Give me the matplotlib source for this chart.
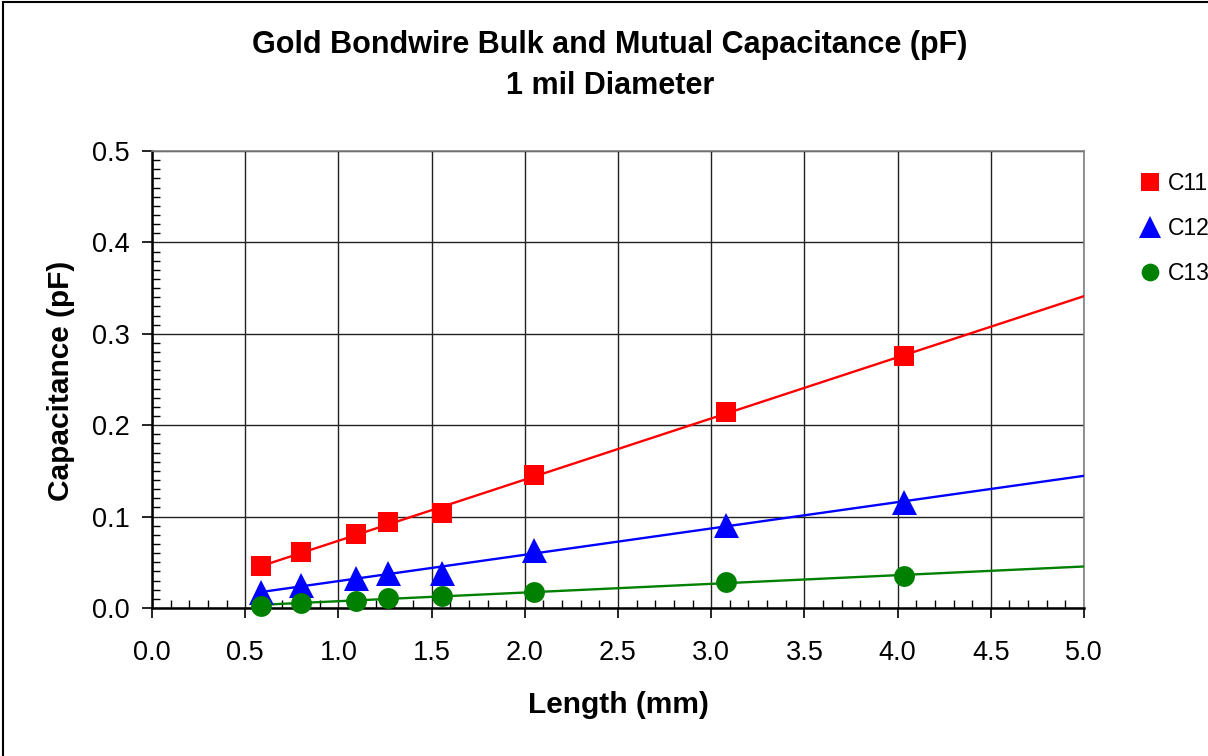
import numpy as np
import matplotlib
matplotlib.use("Agg")
import matplotlib.pyplot as plt
from matplotlib.patches import Rectangle
from matplotlib.ticker import MultipleLocator

plt.rcParams['font.family'] = ['Liberation Sans', 'DejaVu Sans']

# Data
length_mm = [0.587, 0.799, 1.094, 1.267, 1.554, 2.048, 3.079, 4.033]
c11 = [0.0455, 0.0608, 0.0813, 0.0937, 0.1035, 0.1460, 0.2148, 0.2753]
c12 = [0.0176, 0.0252, 0.0328, 0.0379, 0.0379, 0.0635, 0.0908, 0.1158]
c13 = [0.0025, 0.0055, 0.0080, 0.0110, 0.0127, 0.0178, 0.0280, 0.0353]
series_names = ["C11", "C12", "C13"]
x_ticks = [0.0, 0.5, 1.0, 1.5, 2.0, 2.5, 3.0, 3.5, 4.0, 4.5, 5.0]
y_ticks = [0.0, 0.1, 0.2, 0.3, 0.4, 0.5]
trend_end = 5.0

W, H = 1208, 756
fig = plt.figure(figsize=(W / 100, H / 100), dpi=100)
ax = fig.add_axes([152 / W, 1 - 608 / H, (1084 - 152) / W, (608 - 151) / H])

colors = ["#ff0000", "#0000ff", "#008000"]
markers = ["s", "^", "o"]
msizes = [15.0, 18.0, 15.0]
x = np.array(length_mm)
for ys, name, col, mk, ms in zip([c11, c12, c13], series_names, colors, markers, msizes):
    ys = np.array(ys)
    k, b = np.polyfit(x, ys, 1)
    xl = np.array([x.min(), trend_end])
    ax.plot(xl, k * xl + b, color=col, lw=1.7, zorder=3)
    ax.plot(x, ys, linestyle="none", marker=mk, markersize=ms, color=col,
            markeredgewidth=0, zorder=4, clip_on=False, label=name)

ax.set_xlim(0, 5.0)
ax.set_ylim(0, 0.5)
ax.set_xticks(x_ticks)
ax.set_yticks(y_ticks)
ax.set_xticklabels([f"{v:.1f}" for v in x_ticks])
ax.set_yticklabels([f"{v:.1f}" for v in y_ticks])
ax.xaxis.set_minor_locator(MultipleLocator(0.1))
ax.yaxis.set_minor_locator(MultipleLocator(0.01))
ax.tick_params(which="major", direction="out", length=7, width=1.2, labelsize=19.5, color="black")
ax.tick_params(axis="x", which="major", pad=16)
ax.tick_params(axis="y", which="major", pad=9)
ax.tick_params(which="minor", direction="in", length=5.5, width=1.0, color="black")

ax.grid(True, which="major", color="#222222", lw=1.0, zorder=1)
ax.set_axisbelow(True)
for s in ["left", "bottom"]:
    ax.spines[s].set_color("black")
    ax.spines[s].set_linewidth(1.8)
for s in ["top", "right"]:
    ax.spines[s].set_color("#808080")
    ax.spines[s].set_linewidth(1.2)

ax.set_xlabel("Length (mm)", fontsize=21.5, fontweight="bold")
ax.xaxis.set_label_coords((618 - 152) / (1084 - 152), -(691 - 608) / (608 - 151))
ax.set_ylabel("Capacitance (pF)", fontsize=21.5, fontweight="bold")
ax.yaxis.set_label_coords(-(152 - 75) / (1084 - 152), (608 - 381) / (608 - 151))

fig.text(610 / W, 1 - 45 / H, "Gold Bondwire Bulk and Mutual Capacitance (pF)",
         ha="center", va="center", fontsize=22, fontweight="bold")
fig.text(610 / W, 1 - 86 / H, "1 mil Diameter",
         ha="center", va="center", fontsize=22, fontweight="bold")

leg = ax.legend(loc="upper left", bbox_to_anchor=(1139 / W, 1 - 172 / H),
                bbox_transform=fig.transFigure, frameon=False, fontsize=16.5,
                markerscale=0.85, handlelength=1.0, handletextpad=0.25,
                labelspacing=0.95, borderaxespad=0, borderpad=0)

fig.add_artist(Rectangle((3 / W, -0.1), 1.2, 1 - 2 / H + 0.1, transform=fig.transFigure,
                         fill=False, edgecolor="black", lw=1.5))

fig.savefig("out.png", dpi=100)
